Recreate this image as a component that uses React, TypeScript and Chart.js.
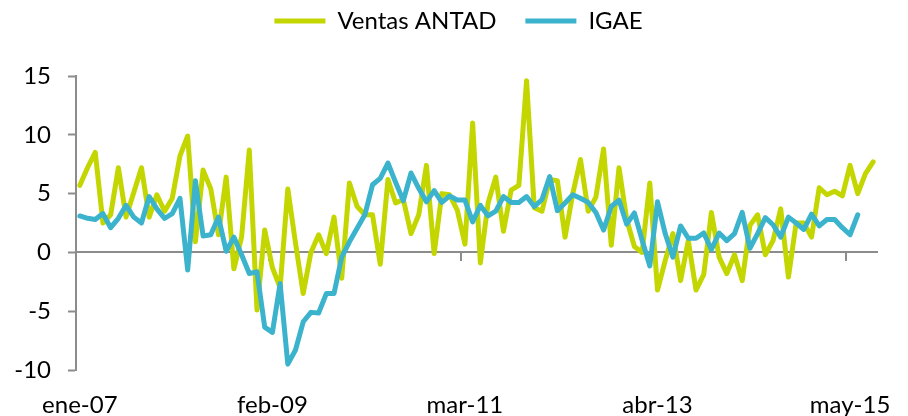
import React, { useEffect, useRef } from 'react';
import { Chart, registerables } from 'chart.js';

Chart.register(...registerables);

// ---- data ----
const monthNames = ['ene', 'feb', 'mar', 'abr', 'may', 'jun', 'jul', 'ago', 'sep', 'oct', 'nov', 'dic'];
const startYear = 2007;
const monthCount = 104;
const categories: string[] = Array.from({ length: monthCount }, (_, i) => {
  const yy = String((startYear + Math.floor(i / 12)) % 100).padStart(2, '0');
  return `${monthNames[i % 12]}-${yy}`;
});
const labelEvery = 25;

const ventasAntad = [
  5.7, 7.2, 8.5, 2.5, 3.2, 7.2, 3.0, 5.1, 7.2, 3.0,
  4.9, 3.5, 4.6, 8.2, 9.9, 0.9, 7.0, 5.4, 1.5, 6.4,
  -1.4, 1.3, 8.7, -4.9, 1.9, -1.3, -3.0, 5.4, 0.8, -3.5,
  0.0, 1.5, -0.1, 3.0, -2.2, 5.9, 3.9, 3.2, 3.2, -1.0,
  6.2, 4.2, 4.5, 1.6, 3.2, 7.4, -0.1, 5.0, 4.9, 3.6,
  0.7, 11.0, -0.9, 4.2, 6.4, 1.8, 5.3, 5.7, 14.6, 3.8,
  3.5, 6.2, 6.1, 1.3, 5.0, 7.9, 3.5, 4.7, 8.8, 0.6,
  7.2, 2.8, 0.5, 0.0, 5.9, -3.2, -0.7, 1.6, -2.4, 1.0,
  -3.2, -1.9, 3.4, -0.4, -1.8, -0.2, -2.4, 2.3, 3.2, -0.2,
  1.0, 3.7, -2.1, 2.5, 2.5, 1.3, 5.5, 4.9, 5.2, 4.8,
  7.4, 5.0, 6.7, 7.7,
];

const igae = [
  3.1, 2.9, 2.8, 3.3, 2.1, 2.9, 4.0, 3.0, 2.5, 4.75,
  3.7, 2.9, 3.3, 4.6, -1.5, 6.1, 1.4, 1.5, 3.0, 0.1,
  1.3, -0.2, -1.8, -1.65, -6.35, -6.8, -2.65, -9.5, -8.3, -5.9,
  -5.1, -5.15, -3.5, -3.5, -0.4, 0.9, 2.05, 3.2, 5.75, 6.3,
  7.6, 5.95, 4.4, 6.75, 5.45, 4.3, 5.25, 4.25, 4.8, 4.45,
  4.45, 2.6, 4.0, 3.1, 3.5, 4.75, 4.25, 4.25, 4.75, 3.9,
  4.5, 6.45, 3.55, 4.2, 4.9, 4.6, 4.25, 3.4, 1.9, 3.9,
  4.45, 2.4, 3.35, 1.05, -1.15, 4.3, 1.6, -0.4, 2.25, 1.2,
  1.2, 1.65, 0.25, 1.65, 1.0, 1.6, 3.4, 0.35, 1.6, 2.95,
  2.35, 1.3, 3.0, 2.5, 1.95, 3.25, 2.25, 2.8, 2.8, 2.1,
  1.5, 3.2,
];

const yMin = -10;
const yMax = 15;
const yStep = 5;

// ---- styles ----
const limeColor = '#C4D600';
const tealColor = '#3BB3CC';
const axisGray = '#8C8C8C';
const fontFamily = 'Lato, "Open Sans", sans-serif';
const fontSize = 24;

const legendNudge = {
  id: 'legendNudge',
  afterLayout(chart: any, _args: any, opts: any) {
    const lg = chart.legend;
    if (!lg) return;
    lg.top += opts.dy || 0;
    lg.bottom += opts.dy || 0;
    lg.left += opts.dx || 0;
    lg.right += opts.dx || 0;
  },
};

export default function App() {
  const canvasRef = useRef<HTMLCanvasElement | null>(null);

  useEffect(() => {
    if (!canvasRef.current) return;
    Chart.defaults.font.family = fontFamily;
    const chart = new Chart(canvasRef.current, {
      type: 'line',
      data: {
        labels: categories,
        datasets: [
          {
            label: 'Ventas ANTAD',
            data: ventasAntad,
            borderColor: limeColor,
            backgroundColor: limeColor,
            borderWidth: 5,
            borderCapStyle: 'round',
            borderJoinStyle: 'round',
            pointRadius: 0,
            tension: 0,
            order: 1,
          },
          {
            label: 'IGAE',
            data: igae,
            borderColor: tealColor,
            backgroundColor: tealColor,
            borderWidth: 5,
            borderCapStyle: 'round',
            borderJoinStyle: 'round',
            pointRadius: 0,
            tension: 0,
            order: 0,
          },
        ],
      },
      options: {
        animation: false,
        responsive: true,
        maintainAspectRatio: false,
        layout: { padding: { top: 13, right: 31, bottom: 0, left: 0 } },
        plugins: {
          tooltip: { enabled: false },
          legend: {
            position: 'top',
            labels: {
              usePointStyle: true,
              pointStyle: 'line',
              pointStyleWidth: 51,
              padding: 29,
              color: '#000',
              font: { size: fontSize, family: fontFamily },
              sort: (a: any, b: any) => a.datasetIndex - b.datasetIndex,
            },
          },
          legendNudge: { dx: 20, dy: -33 },
        } as any,
        scales: {
          x: {
            type: 'category',
            offset: true,
            grid: { display: false, drawTicks: false },
            border: { display: false },
            ticks: {
              autoSkip: false,
              maxRotation: 0,
              minRotation: 0,
              padding: 21,
              color: '#000',
              font: { size: fontSize, family: fontFamily },
              callback: (_v: any, i: number) => (i % labelEvery === 0 ? categories[i] : ''),
            },
            afterFit: (s: any) => {
              s.height = 46;
            },
          },
          x2: {
            type: 'category',
            position: { y: 0 },
            offset: true,
            grid: {
              offset: true,
              drawOnChartArea: false,
              drawTicks: true,
              tickLength: 8,
              tickWidth: 2,
              lineWidth: 2,
              tickColor: (ctx: any) =>
                ctx.index % labelEvery === 0 && ctx.index > 0 && ctx.index < categories.length
                  ? axisGray
                  : 'rgba(0,0,0,0)',
            },
            border: { display: true, color: axisGray, width: 2 },
            ticks: { display: false, autoSkip: false },
          },
          y: {
            min: yMin,
            max: yMax,
            ticks: {
              stepSize: yStep,
              padding: 17,
              color: '#000',
              font: { size: fontSize, family: fontFamily },
            },
            grid: {
              drawOnChartArea: false,
              drawTicks: true,
              tickLength: 8,
              tickWidth: 2,
              tickColor: axisGray,
            },
            border: { display: true, color: axisGray, width: 2 },
            afterFit: (s: any) => {
              s.width = 76;
            },
          },
        } as any,
      },
      plugins: [legendNudge as any],
    });
    return () => chart.destroy();
  }, []);

  return (
    <div style={{ position: 'absolute', left: 0, top: 0, width: 908, height: 416, background: '#fff' }}>
      <canvas ref={canvasRef} />
    </div>
  );
}
